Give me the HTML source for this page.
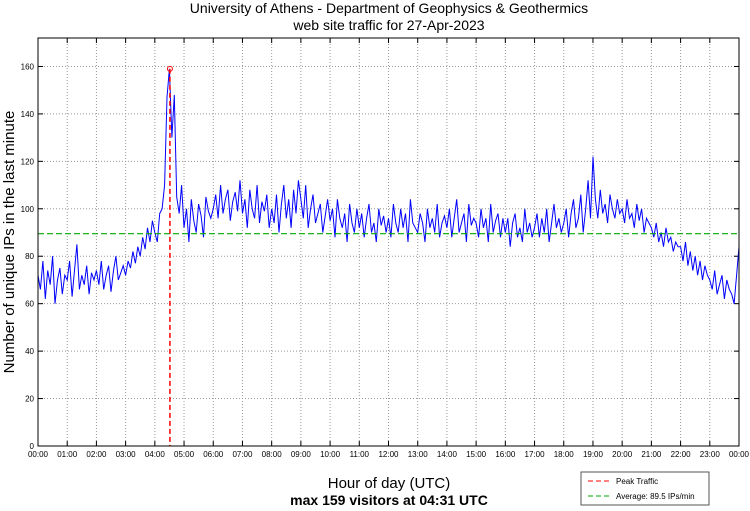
<!DOCTYPE html>
<html><head><meta charset="utf-8"><style>
body{margin:0;background:#fff;}
svg{display:block;font-family:"Liberation Sans",sans-serif;}
</style></head><body>
<svg id="chart" width="750" height="511" viewBox="0 0 750 511" xmlns="http://www.w3.org/2000/svg">
<text x="389" y="13" font-size="14" text-anchor="middle">University of Athens - Department of Geophysics &amp; Geothermics</text>
<text x="389" y="30" font-size="14" text-anchor="middle">web site traffic for 27-Apr-2023</text>
<g id="grid"></g>
<g id="ticks"></g>
<g id="series"></g>
<rect x="38" y="38" width="701" height="408" fill="none" stroke="#000" stroke-width="1"/>
<text transform="translate(14,242) rotate(-90)" font-size="15" text-anchor="middle">Number of unique IPs in the last minute</text>
<text x="389" y="488" font-size="15" text-anchor="middle">Hour of day (UTC)</text>
<text x="389" y="505" font-size="14" font-weight="bold" text-anchor="middle">max 159 visitors at 04:31 UTC</text>
<g>
<rect x="581" y="472" width="128" height="33" fill="#fff" stroke="#555"/>
<line x1="588" y1="481" x2="612" y2="481" stroke="#f00" stroke-dasharray="5,3"/>
<text x="616" y="484" font-size="8">Peak Traffic</text>
<line x1="588" y1="496" x2="612" y2="496" stroke="#0a0" stroke-dasharray="5,3"/>
<text x="616" y="499" font-size="8">Average: 89.5 IPs/min</text>
</g>
</svg>
<script>
const yTicks=[0,20,40,60,80,100,120,140,160];
const xTickLabels=["00:00","01:00","02:00","03:00","04:00","05:00","06:00","07:00","08:00","09:00","10:00","11:00","12:00","13:00","14:00","15:00","16:00","17:00","18:00","19:00","20:00","21:00","22:00","23:00","00:00"];
const stepMinutes=5;
const visitors=[
72,66,78,62,74,68,80,60,70,75,64,72,
70,78,63,74,85,66,72,68,76,64,73,70,
74,68,78,66,72,76,65,74,80,70,73,76,
72,78,75,82,77,84,80,88,83,92,86,95,
90,86,98,100,110,147,159,130,148,105,98,110,
92,100,86,104,95,90,102,97,88,105,99,96,
100,106,96,110,98,104,108,95,103,107,99,112,
98,104,92,108,100,96,110,94,103,99,106,92,
100,94,106,90,102,110,96,104,92,108,98,112,
104,96,110,92,100,106,94,98,102,90,97,104,
95,100,88,104,96,92,98,86,102,94,90,100,
92,98,88,96,102,90,94,86,100,93,97,90,
96,88,102,94,90,100,92,98,86,104,94,92,
90,98,94,86,100,92,96,90,102,88,94,97,
92,100,88,96,104,90,94,98,86,102,93,96,
94,88,100,92,96,86,102,90,95,98,88,96,
90,96,84,94,98,88,92,86,100,90,94,88,
92,98,88,96,90,100,86,94,102,92,96,90,
94,100,88,98,104,92,96,106,90,100,112,96,
122,104,96,108,98,102,94,106,100,96,104,98,
100,94,104,96,98,92,102,95,100,90,96,94,
92,88,94,86,90,84,92,86,88,82,86,84,
84,78,86,76,82,74,80,72,78,70,76,72,
70,66,74,64,68,72,62,70,66,64,60,72,84];
const peakValue=[159];
const peakMinute=[271];
const averageValue=[89.5];

const X0=38,X1=739,Y0=446,Y1=38,YMAX=172;
const xs=m=>X0+(X1-X0)*m/1440;
const ys=v=>Y0-(Y0-Y1)*v/YMAX;
const NS="http://www.w3.org/2000/svg";
function mk(tag,attrs,parent){const e=document.createElementNS(NS,tag);for(const k in attrs)e.setAttribute(k,attrs[k]);parent.appendChild(e);return e;}
const grid=document.getElementById('grid'),ticks=document.getElementById('ticks'),series=document.getElementById('series');
yTicks.forEach(v=>{
  const y=ys(v);
  if(v>0){const g=mk('line',{x1:X0,x2:X1,y1:y,y2:y,stroke:'#999','stroke-dasharray':'1,2'},grid);
  
  }
  const t=mk('text',{x:X0-4,y:y+3,'font-size':8,'text-anchor':'end'},ticks);t.textContent=v;
  
  
  mk('line',{x1:X0,x2:X0+5,y1:y,y2:y,stroke:'#000'},ticks);
  mk('line',{x1:X1-5,x2:X1,y1:y,y2:y,stroke:'#000'},ticks);
});
xTickLabels.forEach((l,i)=>{
  const x=xs(i*60);
  if(i>0&&i<24){const g=mk('line',{x1:x,x2:x,y1:Y1,y2:Y0,stroke:'#999','stroke-dasharray':'1,2'},grid);
  
  }
  mk('line',{x1:x,x2:x,y1:Y0-5,y2:Y0,stroke:'#000'},ticks);
  mk('line',{x1:x,x2:x,y1:Y1,y2:Y1+5,stroke:'#000'},ticks);
  const t=mk('text',{x:x,y:Y0+11,'font-size':8,'text-anchor':'middle'},ticks);t.textContent=l;
  
  
});
const pts=visitors.map((v,i)=>xs(i*stepMinutes).toFixed(1)+','+ys(v).toFixed(1)).join(' ');
const pl=mk('polyline',{points:pts,fill:'none',stroke:'#00f','stroke-width':1},series);


const av=mk('line',{x1:X0,x2:X1,y1:ys(averageValue[0]),y2:ys(averageValue[0]),stroke:'#0a0','stroke-width':1.2,'stroke-dasharray':'6,3'},series);


const px=xs(peakMinute[0]);
const pk=mk('line',{x1:px,x2:px,y1:ys(peakValue[0]),y2:Y0,stroke:'#f00','stroke-width':1.5,'stroke-dasharray':'5,3'},series);


const pm=mk('circle',{cx:px,cy:ys(peakValue[0]),r:2.5,fill:'none',stroke:'#f00','stroke-width':1},series);


</script>
</body></html>
